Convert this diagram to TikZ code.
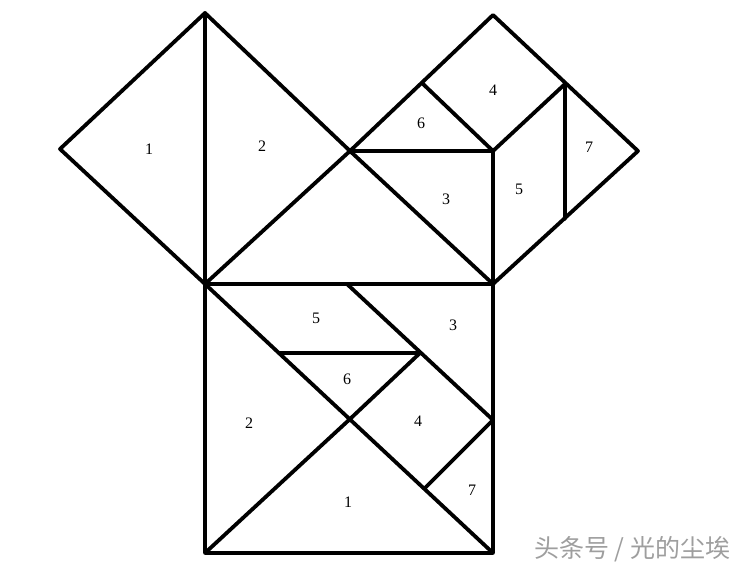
\documentclass[tikz,border=0pt]{standalone}
\usepackage{fontspec}
\newfontfamily\cjk{Noto Sans CJK SC}
\newfontfamily\numfont{Liberation Serif}
\begin{document}
\begin{tikzpicture}[x=1pt,y=-1pt,
    edge/.style={line width=3.8pt, line join=round, line cap=round},
    num/.style={font=\numfont\fontsize{16}{18}\selectfont}]
    \useasboundingbox (0,0) rectangle (747,571);
    % square on the left leg
    \coordinate (L) at (60,149);
    \coordinate (T1) at (205,13);
    \coordinate (C) at (350,151);
    \coordinate (A) at (205,284);
    % square on the right leg
    \coordinate (T2) at (493,15);
    \coordinate (R) at (638,151);
    \coordinate (B) at (493,284);
    \coordinate (M) at (493,151);
    \coordinate (P) at (422,83);
    \coordinate (Q) at (565,84);
    \coordinate (S) at (565,219);
    % square on the hypotenuse
    \coordinate (D) at (205,553);
    \coordinate (E) at (493,553);
    \coordinate (F) at (347,284);
    \coordinate (G) at (280,353);
    \coordinate (H) at (420,353);
    \coordinate (O) at (350,419);
    \coordinate (K) at (493,420);
    \coordinate (N) at (425,488);

    \draw[edge] (L) -- (T1) -- (C) -- (A) -- cycle;
    \draw[edge] (T1) -- (A);
    \draw[edge] (C) -- (T2) -- (R) -- (B) -- cycle;
    \draw[edge] (C) -- (M) -- (B);
    \draw[edge] (P) -- (M) -- (Q) -- (S);
    \draw[edge] (A) -- (B) -- (E) -- (D) -- cycle;
    \draw[edge] (A) -- (E);
    \draw[edge] (D) -- (O) -- (H);
    \draw[edge] (G) -- (H);
    \draw[edge] (F) -- (K);
    \draw[edge] (N) -- (K);

    % piece numbers
    \node[num] (a1) at (149,149) {1};
    \node[num] (a2) at (262,146) {2};
    \node[num] (b4) at (493,90) {4};
    \node[num] (b6) at (421,123) {6};
    \node[num] (b3) at (446,199) {3};
    \node[num] (b5) at (519,189) {5};
    \node[num] (b7) at (589,147) {7};
    \node[num] (c5) at (316,318) {5};
    \node[num] (c3) at (453,325) {3};
    \node[num] (c6) at (347,379) {6};
    \node[num] (c2) at (249,423) {2};
    \node[num] (c4) at (418,421) {4};
    \node[num] (c7) at (472,490) {7};
    \node[num] (c1) at (348,502) {1};

    \node[text=black!38, font=\cjk\fontsize{25}{27}\selectfont] (mark) at (632,549) {头条号 / 光的尘埃};
\end{tikzpicture}
\end{document}
